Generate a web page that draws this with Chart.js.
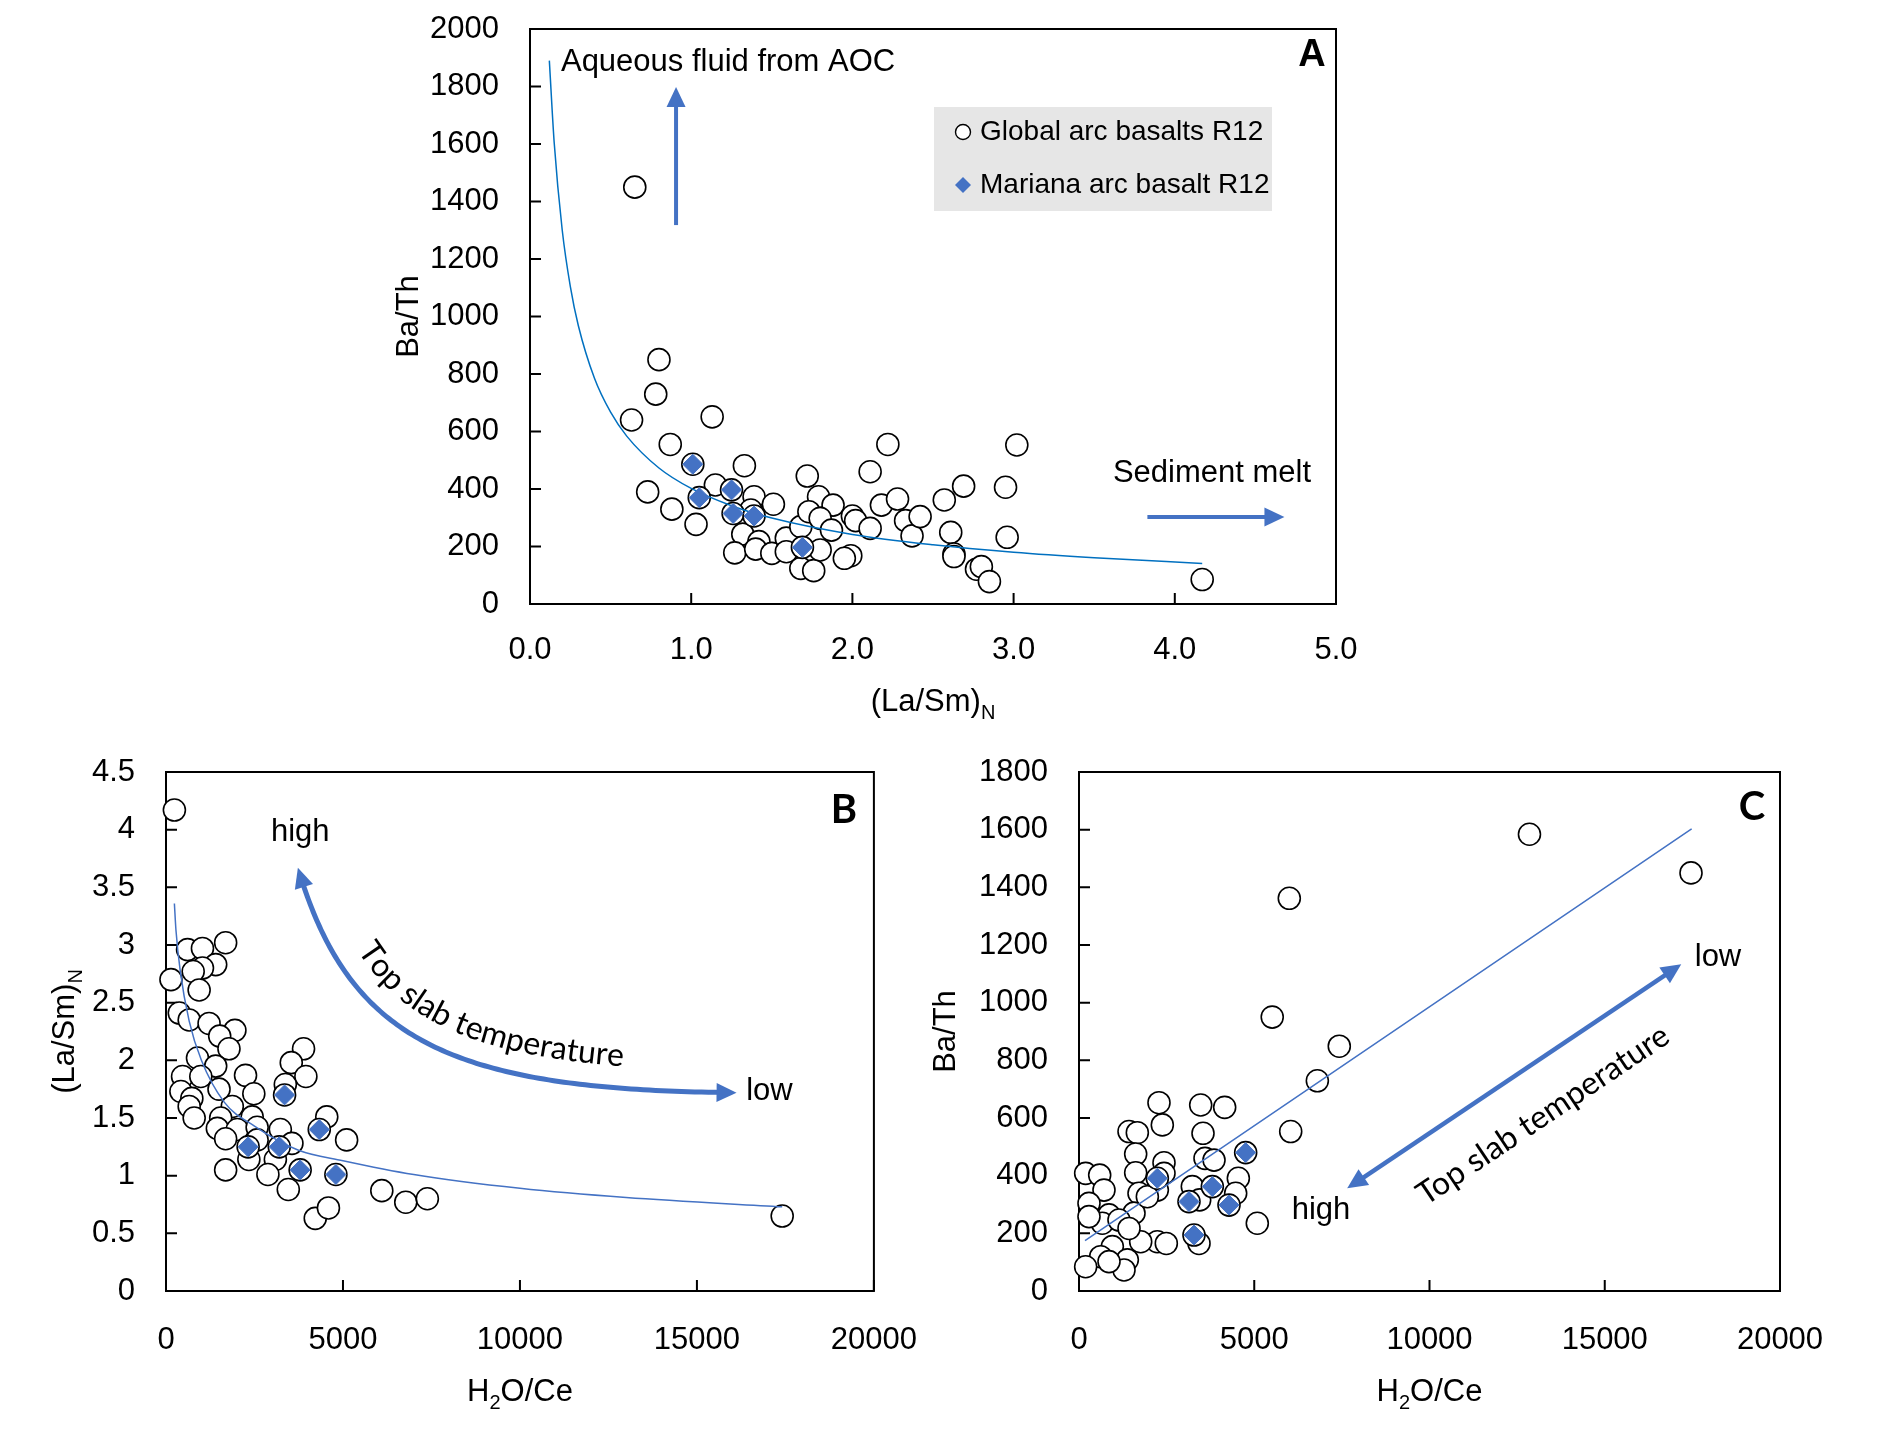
<!DOCTYPE html>
<html lang="en">
<head>
    <meta charset="UTF-8">
    <title>Ba/Th, (La/Sm)N and H2O/Ce in arc basalts</title>
    <script src="https://cdn.jsdelivr.net/npm/chart.js"></script>
    <style>
        body { margin: 0; background: #fff; overflow: hidden; }
        #wrap { position: relative; width: 1879px; height: 1445px; }
        .panel { position: absolute; }
    </style>
</head>
<body>
<div id="wrap">
    <div class="panel" style="left:360px;top:0;width:1040px;height:740px"><canvas id="chartA"></canvas></div>
    <div class="panel" style="left:0;top:740px;width:940px;height:705px"><canvas id="chartB"></canvas></div>
    <div class="panel" style="left:880px;top:740px;width:999px;height:705px"><canvas id="chartC"></canvas></div>
</div>
<script>
// ---- Panel A: (La/Sm)N vs Ba/Th ----
const globalA_x = [0.65, 0.80, 0.78, 0.63, 1.13, 0.87, 1.33, 0.73, 0.88, 1.03, 1.15, 1.39, 1.51, 1.37, 1.32, 1.42,
    1.27, 1.40, 1.50, 1.59, 1.59, 1.68, 1.72, 1.79, 1.73, 1.88, 1.80, 1.87, 2.00, 2.02, 2.11, 1.68, 1.76, 1.80,
    1.99, 1.95, 2.11, 2.22, 2.18, 2.28, 2.33, 2.37, 2.42, 2.57, 2.69, 2.61, 2.63, 2.63, 2.77, 2.80, 2.85, 2.95,
    2.96, 3.02, 4.17, 1.01, 1.05, 1.25, 1.26, 1.39, 1.69];
const globalA_y = [1450, 850, 730, 640, 651, 555, 481, 390, 330, 277, 414, 373, 347, 327, 243, 217,
    178, 191, 176, 229, 182, 269, 445, 373, 321, 344, 298, 257, 306, 290, 263, 124, 116, 188,
    168, 159, 460, 555, 344, 365, 290, 237, 304, 362, 410, 249, 174, 165, 121, 130, 78, 406,
    232, 553, 85, 486, 370, 397, 315, 306, 197];
const marianaA_x = [1.01, 1.05, 1.25, 1.26, 1.39, 1.69];
const marianaA_y = [486, 370, 397, 315, 306, 197];
const trendA_x = [0.12, 0.15, 0.2, 0.25, 0.3, 0.4, 0.5, 0.6, 0.8, 1.0, 1.25, 1.5, 2.0, 2.5, 3.0, 3.5, 4.17];
const trendA_y = [1890, 1605, 1300, 1105, 968, 785, 667, 584, 473, 402, 342, 299, 242, 206, 180, 161, 141];
const ticksA_x = [0, 1, 2, 3, 4, 5];
const ticksA_y = [0, 200, 400, 600, 800, 1000, 1200, 1400, 1600, 1800, 2000];

// ---- Panel B: H2O/Ce vs (La/Sm)N ----
const globalB_x = [237, 140, 375, 655, 609, 1030, 1404, 1685, 1030, 768, 936, 1217, 1947, 1517, 1779, 890, 1404,
    468, 983, 2247, 2481, 1498, 421, 730, 655, 796, 1873, 1545, 2435, 1451, 2013, 2575, 1685, 2575, 3230, 3558,
    2341, 3090, 1685, 3886, 3539, 3952, 3371, 4542, 5103, 2879, 3455, 4217, 4589, 6097, 6774, 7384, 17409,
    3350, 4330, 2320, 3200, 3790, 4800];
const globalB_y = [4.17, 2.70, 2.41, 2.35, 2.96, 2.97, 2.83, 3.02, 2.80, 2.77, 2.61, 2.32, 2.26, 2.21, 2.10, 2.02, 1.95,
    1.86, 1.86, 1.87, 1.71, 1.75, 1.73, 1.67, 1.60, 1.50, 1.60, 1.50, 1.51, 1.41, 1.40, 1.42, 1.32, 1.31, 1.40, 1.28,
    1.14, 1.14, 1.05, 2.10, 1.98, 1.86, 1.79, 1.51, 1.31, 1.01, 0.88, 0.63, 0.72, 0.87, 0.77, 0.80, 0.65,
    1.70, 1.40, 1.25, 1.25, 1.05, 1.01];
const marianaB_x = [2320, 3200, 3350, 3790, 4330, 4800];
const marianaB_y = [1.25, 1.25, 1.70, 1.05, 1.40, 1.01];
const trendB_x = [237, 281, 400, 655, 1000, 1639, 2500, 3745, 5000, 7000, 10000, 13000, 17409];
const trendB_y = [3.36, 3.13, 2.78, 2.34, 2.00, 1.64, 1.43, 1.22, 1.13, 1.01, 0.89, 0.81, 0.73];
const ticksB_x = [0, 5000, 10000, 15000, 20000];
const ticksB_y = [0, 0.5, 1, 1.5, 2, 2.5, 3, 3.5, 4, 4.5];

// ---- Panel C: H2O/Ce vs Ba/Th ----
const globalC_x = [12852, 17461, 6000, 5513, 7426, 6800, 6040, 2282, 3472, 4156, 2377, 1427, 1664, 3538, 1617, 2425,
    3595, 3852, 1617, 2425, 190, 590, 713, 285, 1712, 2235, 3233, 3443, 4546, 4470, 5087, 3424, 1569, 856, 665,
    1141, 285, 2235, 2491, 1760, 1427, 951, 618, 1379, 1284, 190, 856, 1950,
    2235, 3138, 3281, 3804, 4280, 4755];
const globalC_y = [1584, 1450, 1362, 950, 849, 729, 553, 653, 645, 637, 576, 553, 549, 547, 475, 445,
    460, 454, 410, 408, 408, 402, 350, 304, 339, 350, 362, 316, 391, 339, 235, 165, 270, 264, 235,
    246, 258, 171, 165, 171, 217, 154, 119, 108, 73, 84, 102, 327,
    391, 310, 194, 362, 298, 480];
const marianaC_x = [2235, 3138, 3281, 3804, 4280, 4755];
const marianaC_y = [391, 310, 194, 362, 298, 480];
const trendC_x = [171, 17478];
const trendC_y = [175, 1603];
const ticksC_x = [0, 5000, 10000, 15000, 20000];
const ticksC_y = [0, 200, 400, 600, 800, 1000, 1200, 1400, 1600, 1800];

const seriesNames = ['Mariana arc basalt R12', 'Global arc basalts R12'];

const BLUE = '#4472C4';
const SANS = "'Liberation Sans', Arial, sans-serif";
Chart.defaults.font.family = SANS;
Chart.defaults.font.size = 31;
Chart.defaults.color = '#000';
Chart.defaults.animation = false;

function pts(xs, ys) {
    return xs.map((x, i) => ({ x: x, y: ys[i] }));
}

// annotation settings per canvas (positions in data units unless noted)
const NOTES = {
    chartA: {
        letter: { t: 'A', dx: -24, dy: 27, font: 'bold 38px ' + SANS },
        xTitle: [{ t: '(La/Sm)' }, { t: 'N', sub: true }], xTitleDy: 96,
        yTitle: [{ t: 'Ba/Th' }], yTitleDx: 123,
        texts: [
            { t: 'Aqueous fluid from AOC', x: 0.192, y: 1885, align: 'left' },
            { t: 'Sediment melt', x: 3.616, y: 453, align: 'left' }
        ],
        arrows: [
            { from: [0.906, 1318], to: [0.906, 1798], both: false, width: 4 },
            { from: [3.83, 303], to: [4.68, 303], both: false, width: 4 }
        ],
        legend: { dx: -402, dy: 78, w: 338, h: 104, rows: [{ ds: 2, dy: 25 }, { ds: 0, dy: 78 }] }
    },
    chartB: {
        letter: { t: 'B', dx: -30, dy: 38, font: 'bold 40px Lato, ' + SANS },
        xTitle: [{ t: 'H' }, { t: '2', sub: true }, { t: 'O/Ce' }], xTitleDy: 99,
        yTitle: [{ t: '(La/Sm)' }, { t: 'N', sub: true }], yTitleDx: 103,
        texts: [
            { t: 'high', x: 3792, y: 3.98, align: 'center' },
            { t: 'low', x: 17050, y: 1.73, align: 'center' }
        ],
        curve: { p: [[3726, 3.67], [5169, 2.18], [7978, 1.74], [16120, 1.72]], width: 5,
                 text: 'Top slab temperature', offset: 22, start: 0.19 }
    },
    chartC: {
        letter: { t: 'C', dx: -28, dy: 35, font: 'bold 40px Lato, ' + SANS },
        xTitle: [{ t: 'H' }, { t: '2', sub: true }, { t: 'O/Ce' }], xTitleDy: 99,
        yTitle: [{ t: 'Ba/Th' }], yTitleDx: 135,
        texts: [
            { t: 'high', x: 6904, y: 281, align: 'center' },
            { t: 'low', x: 18231, y: 1158, align: 'center' }
        ],
        arrows: [
            { from: [7652, 356], to: [17183, 1133], both: true, width: 4.5 }
        ],
        slanted: { t: 'Top slab temperature', x: 13238, y: 610 }
    }
};

function richText(ctx, parts, cx, cy, size, angle) {
    ctx.save();
    ctx.translate(cx, cy);
    ctx.rotate(angle || 0);
    const subSize = Math.round(size * 0.66);
    let w = 0;
    parts.forEach(p => {
        ctx.font = (p.sub ? subSize : size) + 'px ' + SANS;
        p.w = ctx.measureText(p.t).width;
        w += p.w;
    });
    let x = -w / 2;
    ctx.textAlign = 'left';
    ctx.textBaseline = 'alphabetic';
    ctx.fillStyle = '#000';
    parts.forEach(p => {
        ctx.font = (p.sub ? subSize : size) + 'px ' + SANS;
        ctx.fillText(p.t, x, size * 0.36 + (p.sub ? size * 0.26 : 0));
        x += p.w;
    });
    ctx.restore();
}

function lengths(path) {
    const L = [0];
    for (let i = 1; i < path.length; i++) {
        L.push(L[i - 1] + Math.hypot(path[i].x - path[i - 1].x, path[i].y - path[i - 1].y));
    }
    return L;
}

function at(path, L, s) {
    let i = 0;
    while (i < path.length - 2 && L[i + 1] < s) i++;
    const a = path[i], b = path[i + 1];
    const seg = (L[i + 1] - L[i]) || 1;
    const f = (s - L[i]) / seg;
    return { x: a.x + (b.x - a.x) * f, y: a.y + (b.y - a.y) * f, ang: Math.atan2(b.y - a.y, b.x - a.x) };
}

function head(ctx, tip, from, len, hw) {
    const ang = Math.atan2(tip.y - from.y, tip.x - from.x);
    const c = Math.cos(ang), s = Math.sin(ang);
    ctx.beginPath();
    ctx.moveTo(tip.x, tip.y);
    ctx.lineTo(tip.x - len * c + hw * s, tip.y - len * s - hw * c);
    ctx.lineTo(tip.x - len * c - hw * s, tip.y - len * s + hw * c);
    ctx.closePath();
    ctx.fill();
}

function drawArrow(ctx, path, width, both) {
    const len = 20, hw = 9.5;
    const L = lengths(path), tot = L[L.length - 1];
    const s0 = both ? len * 0.7 : 0, s1 = tot - len * 0.7;
    ctx.save();
    ctx.strokeStyle = BLUE;
    ctx.fillStyle = BLUE;
    ctx.lineWidth = width;
    ctx.lineJoin = 'round';
    ctx.beginPath();
    const p0 = at(path, L, s0);
    ctx.moveTo(p0.x, p0.y);
    for (let i = 1; i < path.length - 1; i++) {
        if (L[i] > s0 && L[i] < s1) ctx.lineTo(path[i].x, path[i].y);
    }
    const p1 = at(path, L, s1);
    ctx.lineTo(p1.x, p1.y);
    ctx.stroke();
    head(ctx, path[path.length - 1], at(path, L, tot - len), len, hw);
    if (both) head(ctx, path[0], at(path, L, len), len, hw);
    ctx.restore();
}

const notesPlugin = {
    id: 'notes',
    beforeDatasetsDraw(chart) {
        const { ctx, chartArea: a, scales } = chart;
        ctx.save();
        ctx.strokeStyle = '#000';
        ctx.lineWidth = 2;
        ctx.strokeRect(a.left, a.top, a.right - a.left, a.bottom - a.top);
        ctx.beginPath();
        scales.y.ticks.forEach(t => {
            const py = scales.y.getPixelForValue(t.value);
            ctx.moveTo(a.left, py);
            ctx.lineTo(a.left + 11, py);
        });
        scales.x.ticks.forEach(t => {
            const px = scales.x.getPixelForValue(t.value);
            ctx.moveTo(px, a.bottom);
            ctx.lineTo(px, a.bottom - 11);
        });
        ctx.stroke();
        ctx.restore();
    },
    afterDraw(chart) {
        const cfg = NOTES[chart.canvas.id];
        const { ctx, chartArea: a, scales } = chart;
        const X = v => scales.x.getPixelForValue(v);
        const Y = v => scales.y.getPixelForValue(v);

        // axis titles
        richText(ctx, cfg.xTitle, (a.left + a.right) / 2, a.bottom + cfg.xTitleDy, 31, 0);
        richText(ctx, cfg.yTitle, a.left - cfg.yTitleDx, (a.top + a.bottom) / 2, 31, -Math.PI / 2);

        ctx.save();
        ctx.fillStyle = '#000';
        ctx.font = cfg.letter.font;
        ctx.textAlign = 'center';
        ctx.textBaseline = 'middle';
        ctx.fillText(cfg.letter.t, a.right + cfg.letter.dx, a.top + cfg.letter.dy);

        ctx.font = '31px ' + SANS;
        cfg.texts.forEach(t => {
            ctx.textAlign = t.align;
            ctx.fillText(t.t, X(t.x), Y(t.y));
        });
        ctx.restore();

        (cfg.arrows || []).forEach(ar => {
            const path = [{ x: X(ar.from[0]), y: Y(ar.from[1]) }, { x: X(ar.to[0]), y: Y(ar.to[1]) }];
            drawArrow(ctx, path, ar.width, ar.both);
        });

        if (cfg.curve) {
            const c = cfg.curve;
            const P = c.p.map(q => ({ x: X(q[0]), y: Y(q[1]) }));
            const path = [];
            for (let i = 0; i <= 120; i++) {
                const t = i / 120, u = 1 - t;
                path.push({
                    x: u * u * u * P[0].x + 3 * u * u * t * P[1].x + 3 * u * t * t * P[2].x + t * t * t * P[3].x,
                    y: u * u * u * P[0].y + 3 * u * u * t * P[1].y + 3 * u * t * t * P[2].y + t * t * t * P[3].y
                });
            }
            drawArrow(ctx, path, c.width, true);
            // text following the arrow on its upper-right side
            const n = path.length;
            const off = path.map((p, i) => {
                const q0 = path[Math.max(i - 1, 0)], q1 = path[Math.min(i + 1, n - 1)];
                const dx = q1.x - q0.x, dy = q1.y - q0.y, l = Math.hypot(dx, dy) || 1;
                return { x: p.x + dy / l * c.offset, y: p.y - dx / l * c.offset };
            });
            const L = lengths(off);
            ctx.save();
            ctx.fillStyle = '#000';
            ctx.font = '32px Lato, ' + SANS;
            ctx.textAlign = 'left';
            ctx.textBaseline = 'alphabetic';
            let s = c.start * L[L.length - 1];
            for (const ch of c.text) {
                const w = ctx.measureText(ch).width;
                const q = at(off, L, s + w / 2);
                ctx.save();
                ctx.translate(q.x, q.y);
                ctx.rotate(q.ang);
                ctx.fillText(ch, -w / 2, 0);
                ctx.restore();
                s += w;
            }
            ctx.restore();
        }

        if (cfg.slanted) {
            const ar = cfg.arrows[0];
            const ang = Math.atan2(Y(ar.to[1]) - Y(ar.from[1]), X(ar.to[0]) - X(ar.from[0]));
            ctx.save();
            ctx.translate(X(cfg.slanted.x), Y(cfg.slanted.y));
            ctx.rotate(ang);
            ctx.fillStyle = '#000';
            ctx.font = '32px Lato, ' + SANS;
            ctx.textAlign = 'center';
            ctx.textBaseline = 'middle';
            ctx.fillText(cfg.slanted.t, 0, 0);
            ctx.restore();
        }

        if (cfg.legend) {
            const lg = cfg.legend;
            const bx = a.right + lg.dx, by = a.top + lg.dy;
            ctx.save();
            ctx.fillStyle = '#E6E6E6';
            ctx.fillRect(bx, by, lg.w, lg.h);
            ctx.font = '28px ' + SANS;
            ctx.textAlign = 'left';
            ctx.textBaseline = 'middle';
            lg.rows.forEach(r => {
                const ds = chart.data.datasets[r.ds];
                const mx = bx + 29, my = by + r.dy;
                ctx.beginPath();
                if (ds.pointStyle === 'circle') {
                    ctx.arc(mx, my, 7.5, 0, Math.PI * 2);
                    ctx.fillStyle = '#fff';
                    ctx.fill();
                    ctx.lineWidth = 1.4;
                    ctx.strokeStyle = '#000';
                    ctx.stroke();
                } else {
                    ctx.moveTo(mx - 8, my);
                    ctx.lineTo(mx, my - 8);
                    ctx.lineTo(mx + 8, my);
                    ctx.lineTo(mx, my + 8);
                    ctx.closePath();
                    ctx.fillStyle = BLUE;
                    ctx.fill();
                }
                ctx.fillStyle = '#000';
                ctx.fillText(ds.label, bx + 46, my);
            });
            ctx.restore();
        }
    }
};

function makeChart(id, d, lineColor, xTicks, yTicks, xFmt, yFmt, pad, yWidth, xHeight, xPad) {
    return new Chart(document.getElementById(id), {
        type: 'scatter',
        data: {
            datasets: [
                { label: seriesNames[0], data: d.mariana, pointStyle: 'rectRot', pointRadius: 10,
                  backgroundColor: BLUE, borderColor: BLUE, borderWidth: 1, order: 0, clip: false },
                { label: 'Trend', data: d.trend, showLine: true, pointRadius: 0, borderColor: lineColor,
                  borderWidth: 1.5, cubicInterpolationMode: 'monotone', order: 1, clip: false },
                { label: seriesNames[1], data: d.global, pointStyle: 'circle', pointRadius: 11,
                  backgroundColor: '#fff', borderColor: '#000', borderWidth: 1.6, order: 2, clip: false }
            ]
        },
        options: {
            responsive: true,
            maintainAspectRatio: false,
            events: [],
            layout: { padding: pad },
            plugins: { legend: { display: false }, tooltip: { enabled: false } },
            scales: {
                x: {
                    type: 'linear', min: xTicks[0], max: xTicks[xTicks.length - 1],
                    afterBuildTicks: s => { s.ticks = xTicks.map(v => ({ value: v })); },
                    ticks: { padding: xPad, maxRotation: 0, autoSkip: false, callback: xFmt },
                    grid: { display: false }, border: { display: false },
                    afterFit: s => { s.height = xHeight; }
                },
                y: {
                    type: 'linear', min: yTicks[0], max: yTicks[yTicks.length - 1],
                    afterBuildTicks: s => { s.ticks = yTicks.map(v => ({ value: v })); },
                    ticks: { padding: 23, autoSkip: false, callback: yFmt },
                    grid: { display: false }, border: { display: false },
                    afterFit: s => { s.width = yWidth; s.paddingTop = 0; s.paddingBottom = 0; }
                }
            }
        },
        plugins: [notesPlugin]
    });
}

makeChart('chartA',
    { mariana: pts(marianaA_x, marianaA_y), trend: pts(trendA_x, trendA_y), global: pts(globalA_x, globalA_y) },
    '#0070C0', ticksA_x, ticksA_y, v => v.toFixed(1), v => String(v),
    { left: 0, top: 29, right: 64, bottom: 0 }, 170, 136, 20);

makeChart('chartB',
    { mariana: pts(marianaB_x, marianaB_y), trend: pts(trendB_x, trendB_y), global: pts(globalB_x, globalB_y) },
    BLUE, ticksB_x, ticksB_y, v => String(v), v => String(v),
    { left: 0, top: 32, right: 62, bottom: 0 }, 166, 154, 23);

makeChart('chartC',
    { mariana: pts(marianaC_x, marianaC_y), trend: pts(trendC_x, trendC_y), global: pts(globalC_x, globalC_y) },
    BLUE, ticksC_x, ticksC_y, v => String(v), v => String(v),
    { left: 0, top: 32, right: 99, bottom: 0 }, 199, 154, 23);
</script>
</body>
</html>
